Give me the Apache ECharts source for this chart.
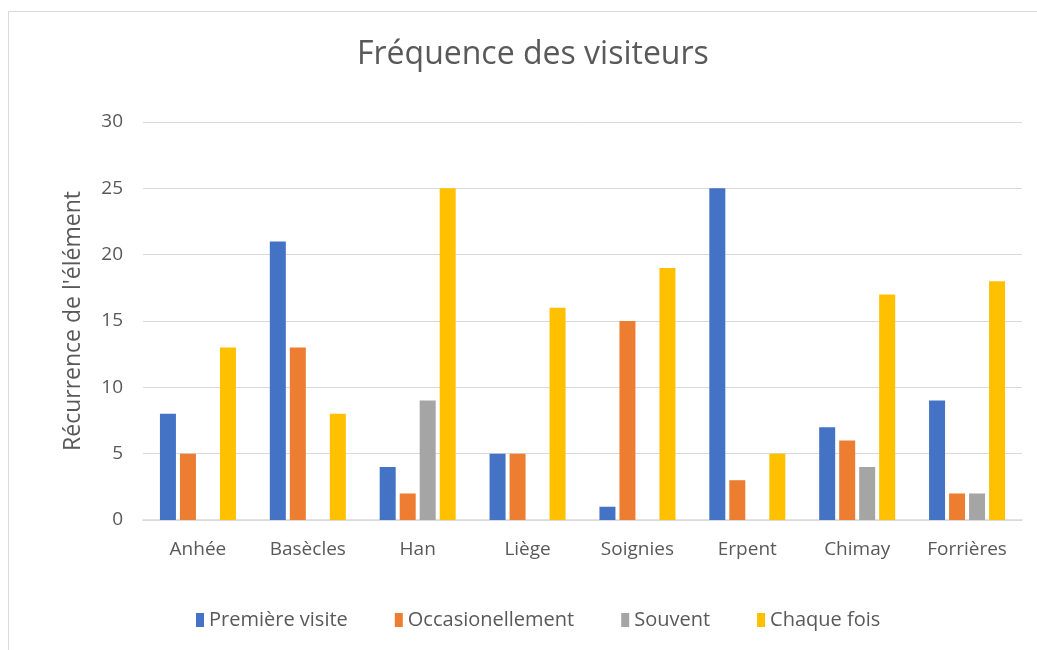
<!DOCTYPE html>
<html>
<head>
<meta charset="utf-8">
<script src="https://cdn.jsdelivr.net/npm/echarts@6/dist/echarts.min.js"></script>
<style>
  html, body { margin: 0; padding: 0; background: #fff; }
  #chart { width: 1037px; height: 650px; }
</style>
</head>
<body>
<div id="chart"></div>
<script>
// données
const villes = ['Anhée', 'Basècles', 'Han', 'Liège', 'Soignies', 'Erpent', 'Chimay', 'Forrières'];
const premiereVisite = [8, 21, 4, 5, 1, 25, 7, 9];
const occasionellement = [5, 13, 2, 5, 15, 3, 6, 2];
const souvent = [0, 0, 9, 0, 0, 0, 4, 2];
const chaqueFois = [13, 8, 25, 16, 19, 5, 17, 18];
const yTicks = [0, 5, 10, 15, 20, 25, 30];

const police = "'Open Sans', 'Noto Sans', sans-serif";
const gris = '#595959';

function serie(nom, data, couleur) {
  return {
    name: nom,
    type: 'bar',
    data: data,
    barWidth: 16,
    barGap: '25%',
    itemStyle: { color: couleur }
  };
}

const chart = echarts.init(document.getElementById('chart'));
chart.setOption({
  animation: false,
  textStyle: { fontFamily: police },
  title: {
    text: 'Fréquence des visiteurs',
    left: 352,
    top: 34,
    textStyle: { fontFamily: police, fontSize: 32, fontWeight: 'normal', color: gris }
  },
  graphic: [{
    type: 'rect',
    shape: { x: 8.5, y: 11.5, width: 1100, height: 700 },
    style: { fill: null, stroke: '#d9d9d9', lineWidth: 1 },
    silent: true
  }],
  legend: {
    bottom: 15,
    left: 191,
    itemWidth: 8,
    itemHeight: 14,
    itemGap: 47,
    icon: 'rect',
    textStyle: { fontFamily: police, fontSize: 20, color: gris }
  },
  grid: { left: 143, right: 15, top: 122, bottom: 130 },
  xAxis: {
    type: 'category',
    data: villes,
    axisTick: { show: false },
    axisLine: { lineStyle: { color: '#d9d9d9', width: 1.5 } },
    axisLabel: { fontFamily: police, fontSize: 19, color: gris, margin: 20 }
  },
  yAxis: {
    type: 'value',
    min: yTicks[0],
    max: yTicks[yTicks.length - 1],
    interval: 5,
    name: "Récurrence de l'élément",
    nameLocation: 'middle',
    nameGap: 58,
    nameTextStyle: { fontFamily: police, fontSize: 23, color: gris },
    axisLabel: { fontFamily: police, fontSize: 19, color: gris, margin: 20 },
    splitLine: { lineStyle: { color: '#d9d9d9', width: 1 } }
  },
  series: [
    serie('Première visite', premiereVisite, '#4472C4'),
    serie('Occasionellement', occasionellement, '#ED7D31'),
    serie('Souvent', souvent, '#A5A5A5'),
    serie('Chaque fois', chaqueFois, '#FFC000')
  ]
});
</script>
</body>
</html>
